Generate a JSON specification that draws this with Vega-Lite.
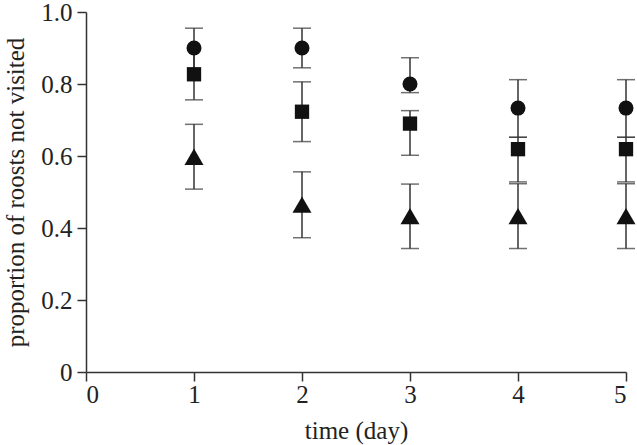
{
  "$schema": "https://vega.github.io/schema/vega-lite/v6.json",
  "width": 540,
  "height": 360,
  "autosize": {"type": "none"},
  "padding": {"left": 86, "top": 12, "right": 11, "bottom": 73},
  "background": "white",
  "config": {
    "view": {"stroke": null},
    "font": "Liberation Serif",
    "axis": {
      "grid": false,
      "domainColor": "#333333",
      "tickColor": "#333333",
      "domainWidth": 1.5,
      "tickWidth": 1.5,
      "tickSize": 9,
      "labelFont": "Liberation Serif",
      "titleFont": "Liberation Serif",
      "labelFontSize": 25,
      "titleFontSize": 25,
      "titleFontWeight": "normal",
      "labelColor": "#222222",
      "titleColor": "#222222"
    }
  },
  "data": {
    "values": [
      {"day": 1, "group": "A", "mean": 0.9, "lo": 0.845, "hi": 0.955},
      {"day": 2, "group": "A", "mean": 0.9, "lo": 0.845, "hi": 0.955},
      {"day": 3, "group": "A", "mean": 0.8, "lo": 0.776, "hi": 0.873},
      {"day": 4, "group": "A", "mean": 0.733, "lo": 0.652, "hi": 0.812},
      {"day": 5, "group": "A", "mean": 0.733, "lo": 0.652, "hi": 0.812},
      {"day": 1, "group": "B", "mean": 0.827, "lo": 0.756, "hi": 0.898},
      {"day": 2, "group": "B", "mean": 0.723, "lo": 0.64, "hi": 0.806},
      {"day": 3, "group": "B", "mean": 0.69, "lo": 0.602, "hi": 0.726},
      {"day": 4, "group": "B", "mean": 0.619, "lo": 0.528, "hi": 0.652},
      {"day": 5, "group": "B", "mean": 0.619, "lo": 0.528, "hi": 0.652},
      {"day": 1, "group": "C", "mean": 0.598, "lo": 0.508, "hi": 0.688},
      {"day": 2, "group": "C", "mean": 0.465, "lo": 0.373, "hi": 0.556},
      {"day": 3, "group": "C", "mean": 0.433, "lo": 0.343, "hi": 0.522},
      {"day": 4, "group": "C", "mean": 0.433, "lo": 0.343, "hi": 0.523},
      {"day": 5, "group": "C", "mean": 0.433, "lo": 0.343, "hi": 0.523}
    ]
  },
  "encoding": {
    "x": {
      "field": "day",
      "type": "quantitative",
      "scale": {"domain": [0, 5], "nice": false, "zero": false},
      "axis": {"title": "time (day)", "values": [0, 1, 2, 3, 4, 5], "labelPadding": 1, "titlePadding": 11, "format": "d"}
    }
  },
  "layer": [
    {
      "mark": {"type": "rule", "color": "#333333", "strokeWidth": 1.5},
      "encoding": {
        "y": {
          "field": "lo",
          "type": "quantitative",
          "scale": {"domain": [0, 1], "nice": false},
          "axis": {
            "title": "proportion of roosts not visited",
            "values": [0, 0.2, 0.4, 0.6, 0.8, 1.0],
            "labelExpr": "datum.value == 0 ? '0' : format(datum.value, '.1f')",
            "labelPadding": 5,
            "titlePadding": 12
          }
        },
        "y2": {"field": "hi"}
      }
    },
    {
      "transform": [{"filter": "!(datum.day == 1 && datum.group == 'A')"}],
      "mark": {"type": "tick", "color": "#333333", "thickness": 1.5, "size": 18, "orient": "horizontal"},
      "encoding": {"y": {"field": "lo", "type": "quantitative"}}
    },
    {
      "transform": [{"filter": "!(datum.day == 1 && datum.group == 'B')"}],
      "mark": {"type": "tick", "color": "#333333", "thickness": 1.5, "size": 18, "orient": "horizontal"},
      "encoding": {"y": {"field": "hi", "type": "quantitative"}}
    },
    {
      "mark": {"type": "point", "filled": true, "opacity": 1, "color": "#111111"},
      "encoding": {
        "y": {"field": "mean", "type": "quantitative"},
        "shape": {
          "field": "group",
          "type": "nominal",
          "scale": {"domain": ["A", "B", "C"], "range": ["circle", "square", "triangle-up"]},
          "legend": null
        },
        "size": {
          "field": "group",
          "type": "nominal",
          "scale": {"type": "ordinal", "domain": ["A", "B", "C"], "range": [225, 205, 360]},
          "legend": null
        }
      }
    }
  ]
}
